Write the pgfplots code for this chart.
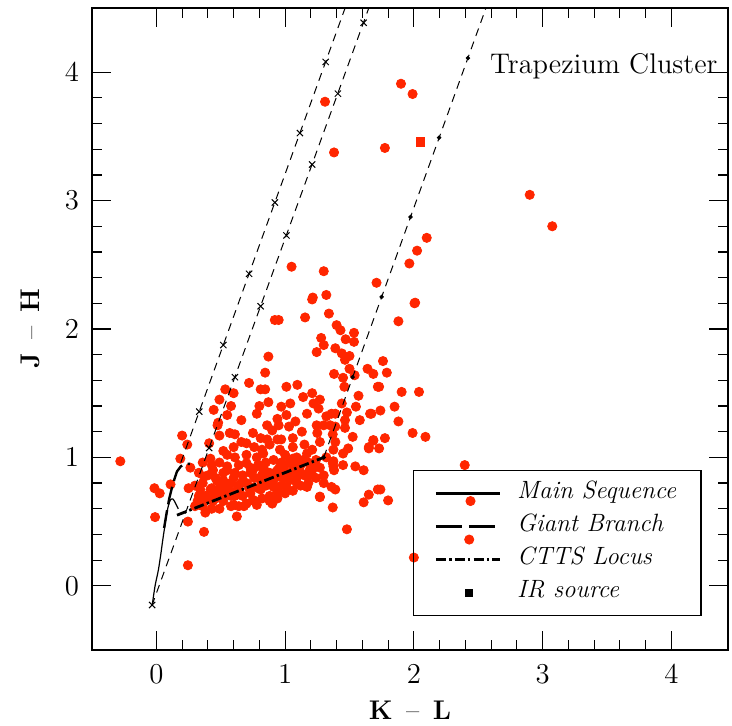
\documentclass[border=0pt]{standalone}
\usepackage{pgfplots}
\pgfplotsset{compat=1.18}
\definecolor{ptred}{RGB}{255,38,0}

% J-H versus K-L colours of the cluster members
\pgfplotstableread{
x y
-0.28 0.97
-0.015 0.76
0.026 0.72
-0.01 0.535
0.245 0.16
0.20 1.17
0.24 1.10
0.186 0.99
0.264 0.92
0.25 0.76
0.11 0.79
0.245 0.50
0.37 0.42
0.38 0.57
0.625 0.54
0.42 0.99
0.41 1.11
0.49 1.17
0.475 1.25
0.61 1.18
0.34 0.75
0.39 0.67
0.37 0.85
0.52 1.05
0.60 1.08
0.70 0.955
0.83 1.03
0.96 1.06
1.06 0.99
1.17 1.03
1.32 1.00
1.37 0.955
1.30 0.80
1.39 0.75
1.27 0.69
1.37 0.61
0.50 0.77
0.52 0.88
0.60 0.84
0.65 0.72
0.60 0.63
0.75 0.67
0.88 0.66
0.81 0.82
0.96 0.85
1.01 0.77
1.12 0.88
1.19 0.90
0.99 0.92
0.83 0.90
0.73 0.88
0.55 0.93
0.44 0.90
0.47 0.82
0.42 0.75
0.52 0.71
0.91 0.77
0.94 0.73
0.81 0.75
0.73 0.77
1.09 0.80
1.17 0.77
0.78 1.00
0.86 1.14
0.94 1.14
1.06 1.15
0.70 1.11
0.57 1.19
0.66 1.12
0.81 1.15
0.90 1.21
1.03 1.24
1.13 1.20
1.25 1.19
1.30 1.25
1.37 1.18
0.78 0.63
0.90 0.64
1.27 0.695
1.48 0.44
1.61 0.65
1.65 0.71
1.72 0.75
1.61 0.90
1.545 0.93
1.45 0.94
1.375 0.93
1.685 1.135
1.65 1.07
1.72 1.55
1.66 1.34
1.05 2.485
1.30 2.45
1.21 2.23
1.32 2.265
1.34 2.12
0.92 2.07
0.95 2.07
1.155 2.09
1.40 2.03
1.28 1.93
1.30 1.875
1.245 1.82
1.39 1.85
0.87 1.785
0.845 1.66
1.38 1.65
0.72 1.58
0.81 1.53
0.845 1.53
1.01 1.55
1.095 1.565
0.535 1.53
0.60 1.50
0.49 1.45
0.58 1.40
0.445 1.37
0.55 1.33
0.48 1.27
0.66 1.29
0.80 1.40
0.78 1.34
0.87 1.43
1.04 1.42
1.01 1.33
1.14 1.47
1.21 1.50
1.22 1.42
1.27 1.45
1.17 1.34
1.26 1.38
1.32 1.32
1.39 1.34
1.08 1.28
1.245 1.25
1.35 1.25
0.97 1.395
0.94 1.30
0.86 1.25
0.95 1.25
0.75 1.19
1.965 2.51
1.71 2.36
2.01 2.205
1.88 2.06
1.43 1.99
1.535 1.97
1.47 1.92
1.535 1.90
1.44 1.81
1.50 1.79
1.465 1.76
1.50 1.69
1.54 1.64
1.45 1.62
1.64 1.69
1.685 1.65
1.76 1.75
1.79 1.66
1.46 1.55
1.73 1.55
1.905 1.51
2.04 1.51
1.57 1.48
1.55 1.395
1.44 1.42
1.85 1.395
1.74 1.365
1.67 1.34
1.48 1.35
1.88 1.28
1.58 1.29
1.465 1.29
1.36 1.34
1.465 1.23
1.39 1.24
1.99 1.19
2.09 1.16
1.525 1.16
1.685 1.13
1.775 1.15
1.65 1.08
1.73 1.07
1.39 1.12
1.375 1.06
1.49 1.07
1.45 1.03
1.375 0.97
1.38 0.90
1.36 0.77
1.74 0.75
1.80 0.665
1.90 3.91
1.99 3.83
1.775 3.41
2.90 3.045
3.075 2.80
2.10 2.71
2.025 2.61
2.005 2.20
1.31 3.77
1.38 3.375
1.215 2.245
2.395 0.94
2.44 0.66
2.43 0.36
2.00 0.22
0.30 0.62
0.30 0.78
0.33 0.70
0.33 0.88
0.36 0.62
0.36 0.80
0.36 0.96
0.40 0.68
0.40 0.86
0.43 0.60
0.43 0.76
0.43 0.94
0.46 0.68
0.46 0.84
0.49 0.60
0.49 0.76
0.49 0.96
0.52 0.66
0.52 0.82
0.55 0.74
0.55 0.90
0.55 1.02
0.58 0.62
0.58 0.80
0.61 0.70
0.61 0.88
0.61 1.00
0.64 0.62
0.64 0.78
0.64 0.94
0.67 0.70
0.67 0.86
0.70 0.64
0.70 0.80
0.70 1.02
0.73 0.72
0.73 0.92
0.76 0.66
0.76 0.84
0.76 1.08
0.79 0.76
0.79 0.94
0.82 0.68
0.82 0.86
0.82 1.06
0.85 0.78
0.85 0.96
0.88 0.70
0.88 0.88
0.88 1.10
0.91 0.82
0.91 0.98
0.94 0.68
0.94 0.90
0.97 0.78
0.97 0.96
0.97 1.14
1.00 0.72
1.00 0.88
1.00 1.02
1.03 0.82
1.03 0.96
1.06 0.74
1.06 0.90
1.06 1.08
1.09 0.84
1.09 1.00
1.12 0.78
1.12 0.94
1.15 0.86
1.15 1.10
1.18 0.80
1.18 0.96
1.21 0.90
1.21 1.06
1.24 0.84
1.24 0.98
1.27 0.92
1.27 1.12
1.30 0.86
0.32 0.66
0.38 0.70
0.45 0.72
0.50 0.70
0.56 0.77
0.62 0.74
0.66 0.80
0.72 0.76
0.75 0.90
0.80 0.84
0.84 0.90
0.87 0.84
0.92 0.88
0.96 0.93
0.99 0.84
1.04 0.88
1.08 0.94
1.11 0.90
1.14 0.98
1.19 0.86
1.23 0.94
0.68 0.62
0.58 0.70
0.44 0.66
0.35 0.70
}\clusterdata

\begin{document}
\begin{tikzpicture}
\begin{axis}[
  scale only axis,
  width=318pt, height=321pt,
  xmin=-0.5, xmax=4.44, ymin=-0.5, ymax=4.5,
  xtick={0,1,2,3,4}, ytick={0,1,2,3,4},
  minor x tick num=4, minor y tick num=4,
  tick align=inside, xtick pos=both, ytick pos=both,
  major tick length=9.5pt, minor tick length=5pt,
  axis line style={line width=0.6pt},
  tick style={line width=0.6pt, black},
  clip marker paths=true,
  ticklabel style={font=\fontsize{14.5}{16}\selectfont},
  xticklabel style={yshift=-4pt},
  yticklabel style={xshift=-3pt},
  xlabel={\textbf{K}\,\,\,--\,\,\,\textbf{L}},
  ylabel={\textbf{J}\,\,\,--\,\,\,\textbf{H}},
  xlabel style={font=\fontsize{13.5}{15}\selectfont, at={(axis description cs:0.5,-0.0935)}, anchor=center},
  ylabel style={font=\fontsize{13.5}{15}\selectfont, at={(axis description cs:-0.0975,0.5)}, anchor=center},
  legend image code/.code={\draw[#1] (0pt,0pt) -- (32pt,0pt);},
  legend style={at={(rel axis cs:0.505,0.2804)}, anchor=north west,
    draw=black, line width=0.6pt, fill=none,
    font=\fontsize{12.5}{14}\itshape,
    inner xsep=10.5pt, inner ysep=4pt, row sep=1.5pt,
    column sep=6pt,
    nodes={inner sep=2pt, text height=8pt, text depth=3pt}},
  legend cell align=left,
]
\addlegendimage{black, line width=1.2pt}
\addlegendimage{black, line width=1.2pt, dash pattern=on 13pt off 3.5pt}
\addlegendimage{black, line width=1.2pt, dash pattern=on 5pt off 1.6pt on 1.2pt off 1.6pt}
\addlegendimage{legend image code/.code={\fill[black] (14.6pt,-1.7pt) rectangle (18pt,1.7pt);}}
\legend{Main Sequence\hspace{4pt}, Giant Branch, CTTS Locus, IR source}

% cluster members
\addplot[forget plot, only marks, mark=*, mark size=2.3pt, ptred, mark options={draw=ptred, fill=ptred}]
  table[x=x, y=y] {\clusterdata};
\addplot[forget plot, only marks, mark=square*, mark size=2.2pt, ptred, mark options={draw=ptred, fill=ptred}]
  coordinates {(2.05,3.46)};

% reddening vectors
\addplot[forget plot, black, line width=0.5pt, dash pattern=on 4pt off 3pt]
  coordinates {(0.19,0.96) (1.466,4.5)};
\addplot[forget plot, black, line width=0.5pt, dash pattern=on 4pt off 3pt]
  coordinates {(-0.035,-0.155) (1.65,4.5)};
\addplot[forget plot, black, line width=0.5pt, dash pattern=on 4pt off 3pt]
  coordinates {(1.30,1.0) (2.56,4.5)};
\addplot[forget plot, only marks, black, mark=x, mark size=2.2pt, mark options={line width=0.5pt}]
  coordinates {(0.333,1.357) (0.52,1.875) (0.72,2.43) (0.92,2.985) (1.115,3.526) (1.315,4.08)
               (-0.033,-0.15) (0.41,1.073) (0.61,1.625) (0.81,2.177) (1.01,2.729) (1.21,3.281) (1.41,3.833) (1.61,4.385)};
\addplot[forget plot, only marks, black, mark=*, mark size=0.9pt]
  coordinates {(1.30,1.0) (1.525,1.625) (1.75,2.25) (1.974,2.872) (2.196,3.49) (2.42,4.11)};

% main sequence
\addplot[forget plot, black, line width=0.6pt, smooth]
  coordinates {(-0.033,-0.155) (-0.01,0.0) (0.015,0.12) (0.035,0.25) (0.05,0.36) (0.065,0.46)
               (0.08,0.56) (0.095,0.63) (0.11,0.67) (0.13,0.675) (0.15,0.64) (0.17,0.60)};
% giant branch
\addplot[forget plot, black, line width=1.2pt, dash pattern=on 9pt off 3pt]
  coordinates {(0.06,0.45) (0.08,0.57) (0.10,0.68) (0.12,0.76) (0.14,0.83) (0.16,0.89)
               (0.19,0.93) (0.22,0.95) (0.26,0.95)};
% classical T Tauri locus
\addplot[forget plot, black, line width=1.4pt, dash pattern=on 5pt off 1.6pt on 1.2pt off 1.6pt]
  coordinates {(0.16,0.55) (1.30,1.0)};

\node[anchor=base west, font=\fontsize{14.2}{16}\selectfont, inner sep=0pt]
  at (axis cs:2.59,3.99) {Trapezium Cluster};
\end{axis}
\path (current axis.south west) ++(-46pt,-37.5pt) rectangle ([shift={(2pt,4pt)}]current axis.north east);
\end{tikzpicture}
\end{document}
